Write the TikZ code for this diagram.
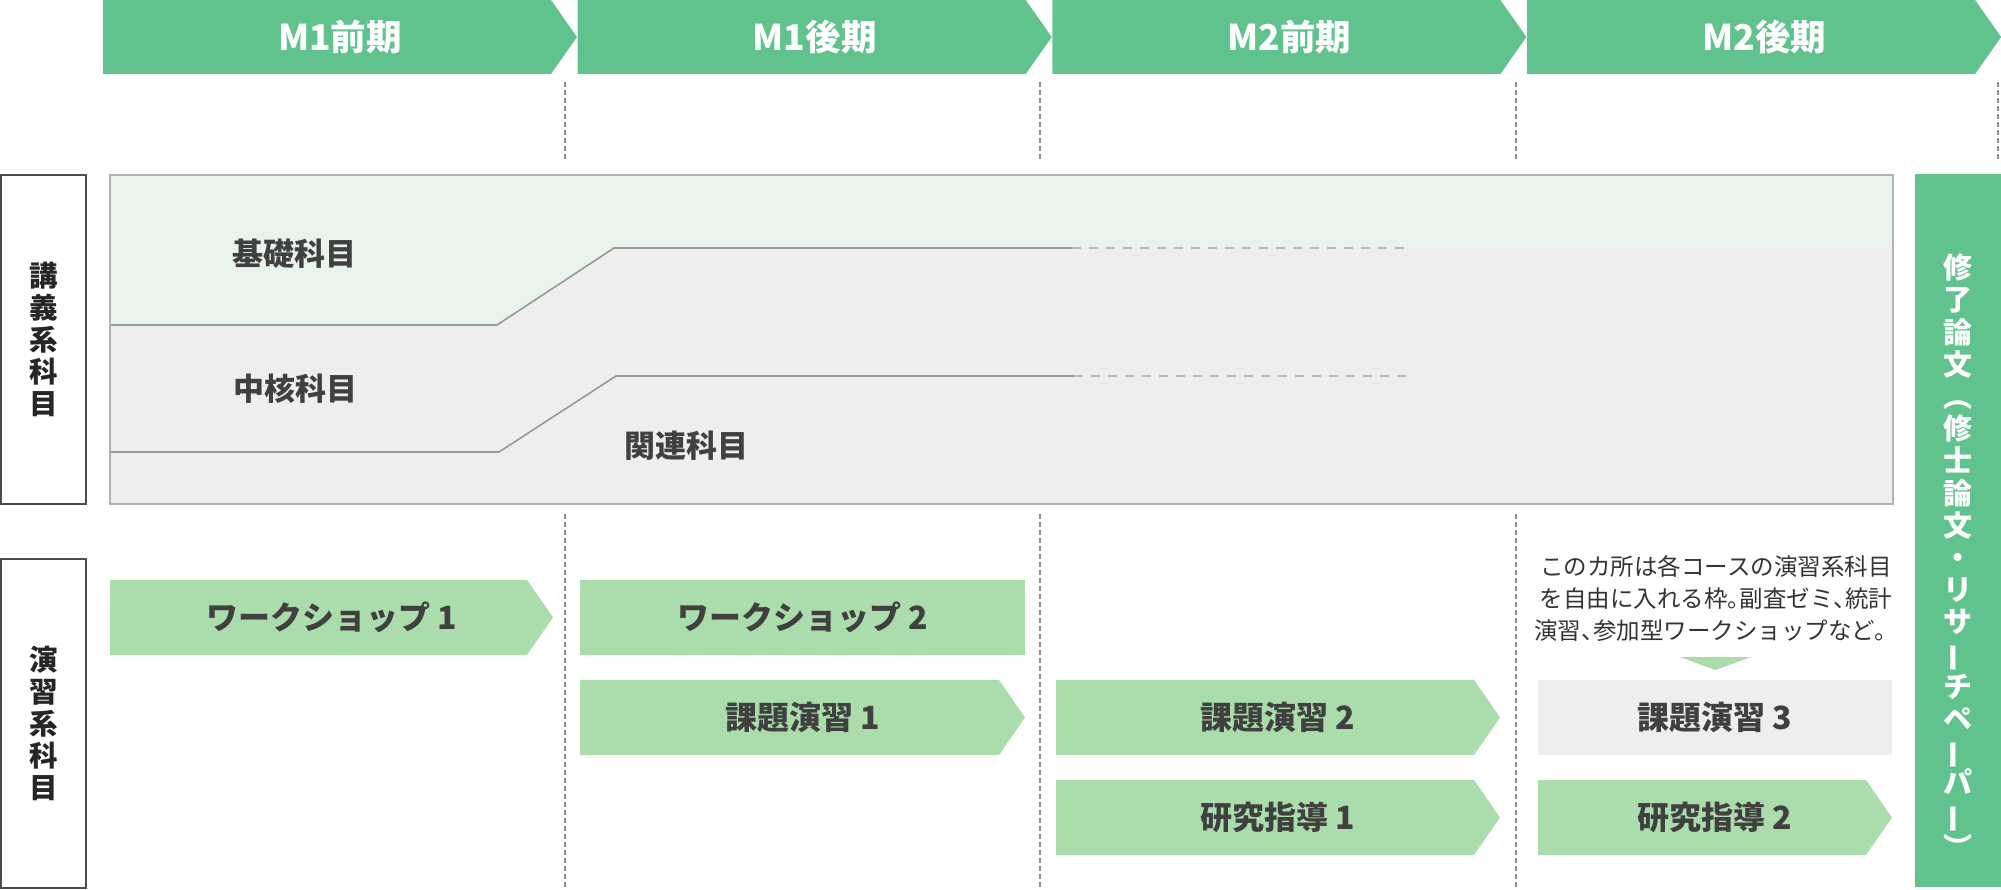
\documentclass[tikz,border=0pt]{standalone}
\usepackage{fontspec}
\setmainfont{Noto Sans CJK JP}
\definecolor{headgreen}{RGB}{96,194,140}
\definecolor{boxgreen}{RGB}{171,221,172}
\definecolor{palegreen}{RGB}{232,243,236}
\definecolor{palegray}{RGB}{238,238,238}
\definecolor{labelgray}{RGB}{64,64,64}
\newcommand\halfpunct[1]{\makebox[0.5em][l]{#1}}
\newcommand\tatebar{\rotatebox[origin=c]{90}{ー}}
\newcommand\numgap{\hspace{0.22em}}
\begin{document}
\begin{tikzpicture}[x=1pt,y=-1pt,
  term/.style={text=white,font=\fontsize{35.5}{40}\selectfont\bfseries},
  subject/.style={text=labelgray,font=\fontsize{31}{36}\selectfont\bfseries},
  task/.style={text=labelgray,font=\fontsize{32}{36}\selectfont\bfseries},
  stack/.style={align=center,execute at begin node={\lineskiplimit=-100pt\relax}},
  sidebox/.style={draw=black!70,line width=2pt,fill=white,minimum width=85,minimum height=329,
    stack,font=\fontsize{28.5}{32}\selectfont\bfseries,text=black!85},
  guide/.style={draw=black!45,line width=1.2pt,dash pattern=on 5pt off 3pt},
  bound/.style={draw=black!40,line width=1.6pt},
  boundcont/.style={draw=black!28,line width=1.6pt,dash pattern=on 9pt off 8pt}]
  \useasboundingbox (0,0) rectangle (2001,890);
  \foreach \i/\t in {0/M1前期,1/M1後期,2/M2前期,3/M2後期}{
    \fill[headgreen] ({103+474.7*\i},0) -- ++(448,0) -- ++(26,37) -- ++(-26,37) -- ++(-448,0) -- cycle;
    \node[term] (term\i) at ({103+474.7*\i+237},37) {\t};
  }
  \foreach \x in {565,1040,1516,1998} \draw[guide] (\x,82) -- (\x,162);
  \foreach \x in {565,1040,1516} \draw[guide] (\x,514) -- (\x,890);

  \fill[palegray] (110,175) rectangle (1893,504);
  \fill[palegreen] (110,175) -- (1893,175) -- (1893,248) -- (614,248) -- (497,325) -- (110,325) -- cycle;
  \draw[bound] (110,325) -- (497,325) -- (614,248) -- (1072,248);
  \draw[boundcont] (1072,248) -- (1405,248);
  \draw[bound] (110,452) -- (499,452) -- (616,376) -- (1074,376);
  \draw[boundcont] (1074,376) -- (1409,376);
  \draw[draw=black!30,line width=1.6pt] (110,175) rectangle (1893,504);
  \node[subject] (kiso) at (294,254) {基礎科目};
  \node[subject] (chukaku) at (295,389) {中核科目};
  \node[subject] (kanren) at (686,446) {関連科目};

  \node[sidebox] (lecture) at (43.5,339.5) {講\\義\\系\\科\\目};
  \node[sidebox] (practice) at (43.5,723.5) {演\\習\\系\\科\\目};

  \foreach \x/\y/\w/\n/\t in {110/580/443/ws1/ワークショップ\numgap 1,580/680/445/kadai1/課題演習\numgap 1,
      1056/680/444/kadai2/課題演習\numgap 2,1056/780/444/kenkyu1/研究指導\numgap 1,1538/780/354/kenkyu2/研究指導\numgap 2}{
    \fill[boxgreen] (\x,\y) -- ++({\w-26},0) -- ++(26,37.5) -- ++(-26,37.5) -- ++({26-\w},0) -- cycle;
    \node[task] (\n) at ({\x+\w/2},{\y+37.5}) {\t};
  }
  \fill[boxgreen] (580,580) rectangle (1025,655);
  \node[task] (ws2) at (802.5,617.5) {ワークショップ\numgap 2};
  \fill[palegray] (1538,680) rectangle (1892,755);
  \node[task] (kadai3) at (1715,717.5) {課題演習\numgap 3};
  \fill[boxgreen] (1680,657) -- (1751,657) -- (1715.5,670) -- cycle;
  \node[stack,text=black!80,font=\fontsize{23.5}{32}\selectfont] (note) at (1716,599)
    {このカ所は各コースの演習系科目\\を自由に入れる枠\halfpunct{。}副査ゼミ\halfpunct{、}統計\\演習\halfpunct{、}参加型ワークショップなど。};

  \fill[headgreen] (1915,174) rectangle (2001,887);
  \node[stack,text=white,font=\fontsize{29}{32.2}\selectfont\bfseries] (thesis) at (1958,556)
    {修\\了\\論\\文\\︵\\修\\士\\論\\文\\・\\リ\\サ\\\tatebar\\チ\\ペ\\\tatebar\\パ\\\tatebar\\︶};
\end{tikzpicture}
\end{document}
